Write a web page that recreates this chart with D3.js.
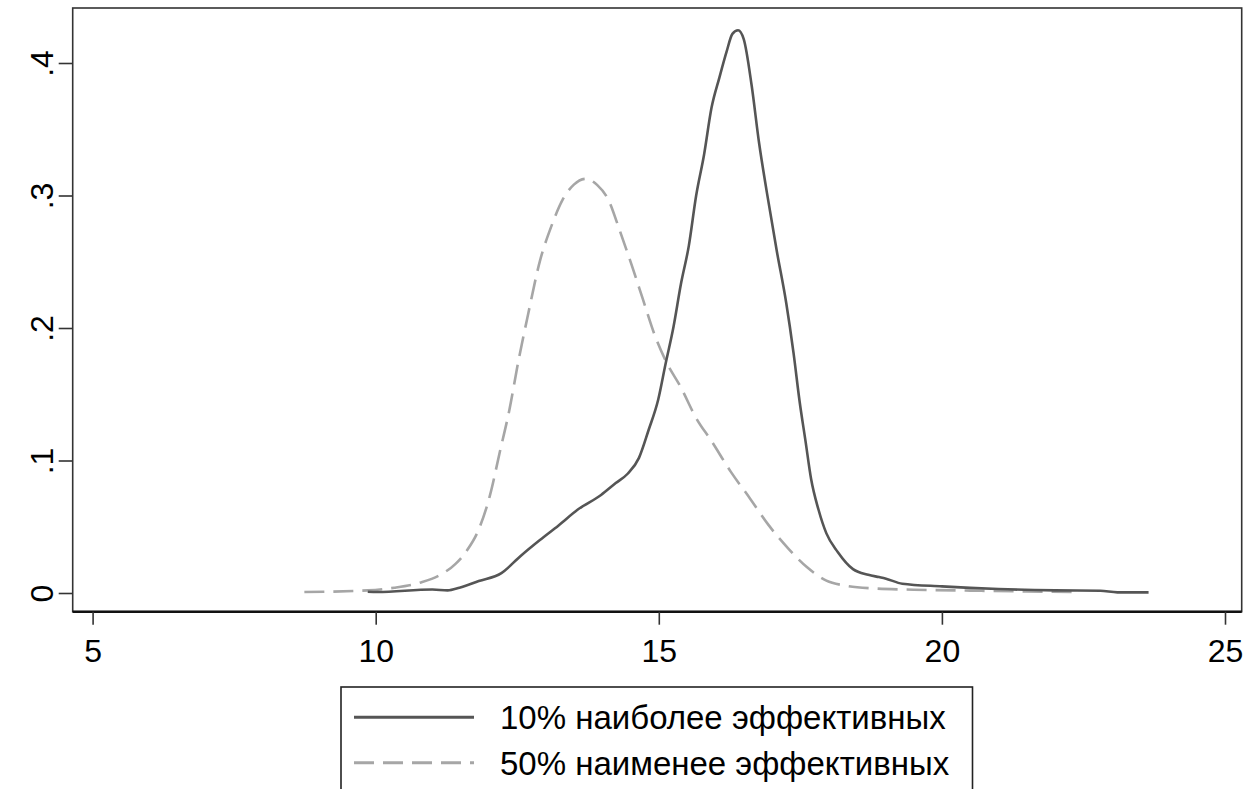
<!DOCTYPE html>
<html>
<head>
<meta charset="utf-8">
<script src="https://cdn.jsdelivr.net/npm/d3@7"></script>
<style>
  html, body { margin: 0; padding: 0; background: #fff; }
  svg { display: block; font-family: "Liberation Sans", Arial, sans-serif; }
</style>
</head>
<body>
<svg id="chart" width="1245" height="789"></svg>
<script>
// Kernel density estimates: x = log value, y = density
const topX = [9.86, 10.03, 11.0, 11.27, 11.48, 11.82, 12.22, 12.56, 12.9, 13.23, 13.57, 13.98, 14.24, 14.45,
  14.65, 14.82, 14.99, 15.12, 15.26, 15.39, 15.53, 15.66, 15.8, 15.93, 16.07, 16.2, 16.3, 16.4, 16.5,
  16.64, 16.77, 16.91, 17.08, 17.25, 17.38, 17.49, 17.59, 17.69, 17.82, 17.96, 18.16, 18.43, 18.7,
  18.89, 19.0, 19.3, 20.0, 21.0, 22.0, 22.8, 23.1, 23.65];
const topY = [0.001, 0.0007, 0.0026, 0.002, 0.004, 0.009, 0.015, 0.028, 0.040, 0.051, 0.063, 0.074, 0.083, 0.090,
  0.102, 0.123, 0.146, 0.173, 0.201, 0.233, 0.262, 0.300, 0.331, 0.366, 0.389, 0.409, 0.422, 0.4247, 0.418,
  0.383, 0.340, 0.302, 0.259, 0.219, 0.181, 0.1436, 0.115, 0.086, 0.063, 0.045, 0.031, 0.018, 0.0137,
  0.012, 0.011, 0.007, 0.005, 0.003, 0.002, 0.0017, 0.0005, 0.0005];

const bottomX = [8.74, 9.86, 10.33, 10.8, 11.14, 11.41, 11.61, 11.82, 12.02, 12.19, 12.36, 12.52, 12.69, 12.9,
  13.1, 13.3, 13.5, 13.71, 13.91, 14.11, 14.31, 14.52, 14.72, 14.92, 15.12, 15.39, 15.66, 15.93, 16.27,
  16.61, 16.94, 17.28, 17.62, 17.96, 18.29, 18.77, 19.5, 20.5, 21.5, 22.4];
const bottomY = [0.0007, 0.002, 0.004, 0.008, 0.0137, 0.022, 0.032, 0.048, 0.074, 0.106, 0.138, 0.175, 0.210, 0.2505,
  0.2765, 0.2967, 0.3082, 0.3126, 0.308, 0.2967, 0.2736, 0.2476, 0.2216, 0.1956, 0.1754, 0.1552, 0.132, 0.1147, 0.0916,
  0.0714, 0.0512, 0.0339, 0.0194, 0.0093, 0.0056, 0.0035, 0.0025, 0.0018, 0.0012, 0.0008];

const seriesNames = ["10% наиболее эффективных", "50% наименее эффективных"];
const xTicks = [5, 10, 15, 20, 25];
const yTicks = [0, 0.1, 0.2, 0.3, 0.4];
const yTickLabels = ["0", ".1", ".2", ".3", ".4"];
const titleText = "Распределение группы по производительности труда (логарифм)";

const svg = d3.select("#chart");
const frame = { left: 72.7, right: 1241.7, top: 8, bottom: 611.7 };

const x = d3.scaleLinear().domain([5, 25]).range([92.6, 1225]);
const y = d3.scaleLinear().domain([0, 0.4]).range([593, 63]);

// Title sits above the top edge of the canvas; only descenders reach into view
svg.append("text")
  .attr("x", (frame.left + frame.right) / 2)
  .attr("y", -6)
  .attr("text-anchor", "middle")
  .attr("font-size", 30)
  .attr("fill", "#000")
  .text(titleText);

// Plot region frame
svg.append("rect")
  .attr("x", frame.left).attr("y", frame.top)
  .attr("width", frame.right - frame.left).attr("height", frame.bottom - frame.top)
  .attr("fill", "none").attr("stroke", "#333").attr("stroke-width", 1.6);
svg.append("line")
  .attr("x1", frame.left).attr("x2", frame.right)
  .attr("y1", frame.bottom).attr("y2", frame.bottom)
  .attr("stroke", "#111").attr("stroke-width", 2.4);

// Y axis
const yAxis = svg.append("g")
  .attr("transform", `translate(${frame.left},0)`)
  .call(d3.axisLeft(y).tickValues(yTicks).tickSize(14).tickFormat((d, i) => yTickLabels[i]));
yAxis.select(".domain").remove();
yAxis.selectAll(".tick line").attr("stroke", "#333").attr("stroke-width", 1.6);
yAxis.selectAll(".tick text")
  .attr("x", null).attr("dy", null)
  .attr("text-anchor", "middle")
  .attr("transform", "translate(-20,0) rotate(-90)")
  .attr("font-size", 32)
  .attr("fill", "#000");

// X axis
const xAxis = svg.append("g")
  .attr("transform", `translate(0,${frame.bottom})`)
  .call(d3.axisBottom(x).tickValues(xTicks).tickSize(13).tickFormat(d3.format("d")));
xAxis.select(".domain").remove();
xAxis.selectAll(".tick line").attr("stroke", "#333").attr("stroke-width", 1.6);
xAxis.selectAll(".tick text")
  .attr("y", 50).attr("dy", null)
  .attr("font-size", 32)
  .attr("fill", "#000");

// Density curves
const line = d3.line()
  .x(d => x(d[0]))
  .y(d => y(d[1]))
  .curve(d3.curveMonotoneX);

const bottomData = d3.zip(bottomX, bottomY);
const topData = d3.zip(topX, topY);

svg.append("path")
  .datum(bottomData)
  .attr("d", line)
  .attr("fill", "none")
  .attr("stroke", "#a6a6a6")
  .attr("stroke-width", 2.6)
  .attr("stroke-dasharray", "20,9");

svg.append("path")
  .datum(topData)
  .attr("d", line)
  .attr("fill", "none")
  .attr("stroke", "#555")
  .attr("stroke-width", 2.6);

// Legend
const legend = svg.append("g");
legend.append("rect")
  .attr("x", 341).attr("y", 687)
  .attr("width", 631.5).attr("height", 130)
  .attr("fill", "#fff").attr("stroke", "#222").attr("stroke-width", 1.6);

const legendItems = [
  { name: seriesNames[0], color: "#555", dash: null, y: 717.3 },
  { name: seriesNames[1], color: "#a6a6a6", dash: "20,9", y: 762.7 }
];
legendItems.forEach(it => {
  legend.append("line")
    .attr("x1", 354).attr("x2", 474)
    .attr("y1", it.y).attr("y2", it.y)
    .attr("stroke", it.color).attr("stroke-width", 3)
    .attr("stroke-dasharray", it.dash);
  legend.append("text")
    .attr("x", 500).attr("y", it.y + 12)
    .attr("font-size", 33)
    .attr("fill", "#000")
    .text(it.name);
});
</script>
</body>
</html>
